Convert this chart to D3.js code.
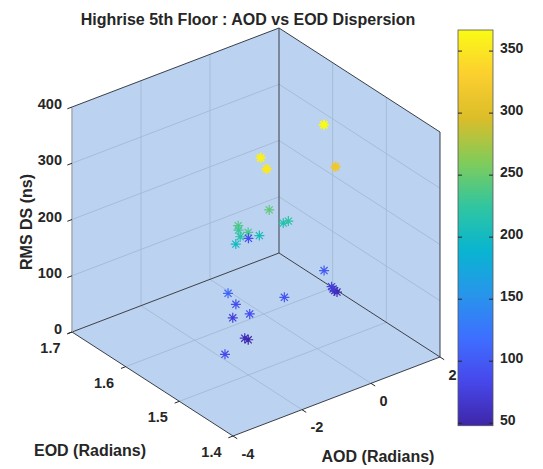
<!DOCTYPE html>
<html>
<head>
<meta charset="utf-8">
<script src="https://cdn.jsdelivr.net/npm/d3@7"></script>
<style>
  body { margin: 0; background: #fff; }
  text { font-family: "Liberation Sans", Arial, sans-serif; font-weight: bold; fill: #262626; }
</style>
</head>
<body>
<svg id="chart" width="543" height="469"></svg>
<script>
// values: AOD (rad), EOD (rad), RMS delay spread (ns)
const aod = [0.61, 0.42, -1.33, -1.44, -0.85, -0.49, -0.42, -1.78, -1.74, -1.66, -1.71, 0.43, -1.12, -1.71,
             0.74, 0.74, 1.00, 1.13, 0.86, -1.81, -0.66, -1.66, -1.68, -1.86, -1.98, -1.77, -3.19];
const eod = [1.527, 1.493, 1.520, 1.502, 1.535, 1.532, 1.527, 1.533, 1.535, 1.537, 1.519, 1.656, 1.536, 1.542,
             1.535, 1.521, 1.532, 1.536, 1.526, 1.550, 1.519, 1.545, 1.518, 1.538, 1.508, 1.515, 1.467];
const rms = [367, 318, 358, 352, 245, 215, 220, 240, 230, 215, 235, 90, 205, 200,
             100, 80, 60, 52, 70, 110, 95, 90, 90, 75, 60, 48, 85];

const aodTicks = [-4, -2, 0, 2];
const eodTicks = [1.4, 1.5, 1.6, 1.7];
const rmsTicks = [0, 100, 200, 300, 400];
const cbarTicks = [50, 100, 150, 200, 250, 300, 350];

// parula(10)
const parula = ["#3e26a8", "#4747eb", "#3e6fff", "#2796eb", "#08b5d0",
                "#31c69f", "#81cc59", "#dcbd29", "#fccf30", "#f9fb15"];

const svg = d3.select("#chart");

// normalised box coordinates
const xScale = d3.scaleLinear().domain([-4, 2]).range([0, 1]);
const yScale = d3.scaleLinear().domain([1.4, 1.7]).range([0, 1]);
const zScale = d3.scaleLinear().domain([0, 400]).range([0, 1]);

// view: orthographic projection of the unit box
const origin = [233, 436];
const ex = [207, -79], ey = [-161, -104], ez = [0, -225];
function proj(x, y, z) {
    const u = xScale(x), v = yScale(y), w = zScale(z);
    return [origin[0] + u * ex[0] + v * ey[0] + w * ez[0],
            origin[1] + u * ex[1] + v * ey[1] + w * ez[1]];
}

const cExtent = d3.extent(rms);
const cScale = d3.scaleLinear()
    .domain(d3.range(parula.length).map(i => cExtent[0] + i * (cExtent[1] - cExtent[0]) / (parula.length - 1)))
    .range(parula);

const paneFill = "rgb(187,210,240)";
const gridColor = "rgb(162,182,208)";
const line = d3.line();

// colorbar (drawn first so the axis labels stay on top)
const cbX = 458, cbW = 35, cbTop = 30, cbBottom = 425.7;
const cbScale = d3.scaleLinear().domain(cExtent).range([cbBottom, cbTop]);
const grad = svg.append("defs").append("linearGradient")
    .attr("id", "cbar").attr("x1", 0).attr("y1", 1).attr("x2", 0).attr("y2", 0);
d3.range(0, 1.0001, 0.02).forEach(t => {
    grad.append("stop").attr("offset", t)
        .attr("stop-color", cScale(cExtent[0] + t * (cExtent[1] - cExtent[0])));
});
svg.append("rect")
    .attr("x", cbX).attr("y", cbTop).attr("width", cbW).attr("height", cbBottom - cbTop)
    .attr("fill", "url(#cbar)").attr("stroke", "#555").attr("stroke-width", 0.8);
const cbTicks = svg.append("g").attr("stroke", "#262626").attr("stroke-width", 1);
cbarTicks.forEach(t => {
    const y = cbScale(t);
    cbTicks.append("line").attr("x1", cbX + cbW).attr("x2", cbX + cbW - 4).attr("y1", y).attr("y2", y);
    cbTicks.append("line").attr("x1", cbX).attr("x2", cbX + 4).attr("y1", y).attr("y2", y);
    svg.append("text").attr("x", cbX + cbW + 7).attr("y", y - 3)
        .attr("dominant-baseline", "central")
        .style("font-size", "14px").text(t);
});

// back panes
const panes = [
    [proj(-4, 1.4, 0), proj(2, 1.4, 0), proj(2, 1.7, 0), proj(-4, 1.7, 0)],
    [proj(-4, 1.7, 0), proj(2, 1.7, 0), proj(2, 1.7, 400), proj(-4, 1.7, 400)],
    [proj(2, 1.4, 0), proj(2, 1.7, 0), proj(2, 1.7, 400), proj(2, 1.4, 400)]
];
svg.append("g").selectAll("path")
    .data(panes)
    .enter().append("path")
    .attr("d", d => line(d) + "Z")
    .attr("fill", paneFill)
    .attr("stroke", "none");

// grid lines
const grid = [];
aodTicks.slice(1, -1).forEach(t => {
    grid.push([proj(t, 1.4, 0), proj(t, 1.7, 0)]);
    grid.push([proj(t, 1.7, 0), proj(t, 1.7, 400)]);
});
eodTicks.slice(1, -1).forEach(t => {
    grid.push([proj(-4, t, 0), proj(2, t, 0)]);
    grid.push([proj(2, t, 0), proj(2, t, 400)]);
});
rmsTicks.slice(1, -1).forEach(t => {
    grid.push([proj(-4, 1.7, t), proj(2, 1.7, t)]);
    grid.push([proj(2, 1.4, t), proj(2, 1.7, t)]);
});
svg.append("g").selectAll("path")
    .data(grid)
    .enter().append("path")
    .attr("d", d => line(d))
    .attr("stroke", gridColor)
    .attr("stroke-width", 0.8)
    .attr("fill", "none");

// box edges
const darkEdges = [
    [proj(2, 1.7, 0), proj(2, 1.7, 400)],
    [proj(2, 1.7, 0), proj(-4, 1.7, 0)],
    [proj(2, 1.7, 0), proj(2, 1.4, 0)],
    [proj(-4, 1.7, 400), proj(2, 1.7, 400)],
    [proj(2, 1.7, 400), proj(2, 1.4, 400)],
    [proj(2, 1.4, 400), proj(2, 1.4, 0)],
    [proj(-4, 1.4, 0), proj(2, 1.4, 0)],
    [proj(-4, 1.4, 0), proj(-4, 1.7, 0)]
];
svg.append("g").selectAll("path")
    .data(darkEdges)
    .enter().append("path")
    .attr("d", d => line(d))
    .attr("stroke", "#3a3f48")
    .attr("stroke-width", 1)
    .attr("fill", "none");
svg.append("path")
    .attr("d", line([proj(-4, 1.7, 0), proj(-4, 1.7, 400)]))
    .attr("stroke", "#a4aab2")
    .attr("stroke-width", 1.5);

// ticks
const ticks = svg.append("g").attr("stroke", "#262626").attr("stroke-width", 1);
const exU = [-0.934, 0.357], eyU = [0.84, 0.543];
rmsTicks.forEach(t => {
    const p = proj(-4, 1.7, t);
    ticks.append("line").attr("x1", p[0]).attr("y1", p[1])
        .attr("x2", p[0] + exU[0] * 5).attr("y2", p[1] + exU[1] * 5);
    svg.append("text").attr("x", p[0] - 10).attr("y", p[1] - 3)
        .attr("text-anchor", "end").attr("dominant-baseline", "central")
        .style("font-size", "14.5px").text(t);
});
eodTicks.forEach(t => {
    const p = proj(-4, t, 0);
    ticks.append("line").attr("x1", p[0]).attr("y1", p[1])
        .attr("x2", p[0] + exU[0] * 5).attr("y2", p[1] + exU[1] * 5);
    svg.append("text").attr("x", p[0] - 11.5).attr("y", p[1] + 16)
        .attr("text-anchor", "end").attr("dominant-baseline", "central")
        .style("font-size", "14.5px").text(t.toFixed(1));
});
aodTicks.forEach(t => {
    const p = proj(t, 1.4, 0);
    ticks.append("line").attr("x1", p[0]).attr("y1", p[1])
        .attr("x2", p[0] + eyU[0] * 5).attr("y2", p[1] + eyU[1] * 5);
    svg.append("text").attr("x", p[0] + 8.5).attr("y", p[1] + 17.5)
        .attr("text-anchor", "start").attr("dominant-baseline", "central")
        .style("font-size", "14.5px").text(t);
});

// axis labels and title
svg.append("text")
    .attr("transform", "translate(26,222) rotate(-90)")
    .attr("text-anchor", "middle").attr("dominant-baseline", "central")
    .style("font-size", "16px").text("RMS DS (ns)");
svg.append("text").attr("x", 90).attr("y", 450)
    .attr("text-anchor", "middle").attr("dominant-baseline", "central")
    .style("font-size", "16px").text("EOD (Radians)");
svg.append("text").attr("x", 378).attr("y", 456)
    .attr("text-anchor", "middle").attr("dominant-baseline", "central")
    .style("font-size", "16px").text("AOD (Radians)");
svg.append("text").attr("x", 248).attr("y", 19)
    .attr("text-anchor", "middle").attr("dominant-baseline", "central")
    .style("font-size", "16px").text("Highrise 5th Floor : AOD vs EOD Dispersion");

// asterisk markers
const r = 5, d = r * 0.707;
const star = `M${-r},0L${r},0M0,${-r}L0,${r}M${-d},${-d}L${d},${d}M${-d},${d}L${d},${-d}`;
const pts = rms.map((z, i) => ({ x: aod[i], y: eod[i], z: z }));
svg.append("g").selectAll("path")
    .data(pts)
    .enter().append("path")
    .attr("transform", p => { const q = proj(p.x, p.y, p.z); return `translate(${q[0]},${q[1]})`; })
    .attr("d", star)
    .attr("fill", "none")
    .attr("stroke", p => cScale(p.z))
    .attr("stroke-width", p => p.z > 300 ? 2 : 1.2);
</script>
</body>
</html>
